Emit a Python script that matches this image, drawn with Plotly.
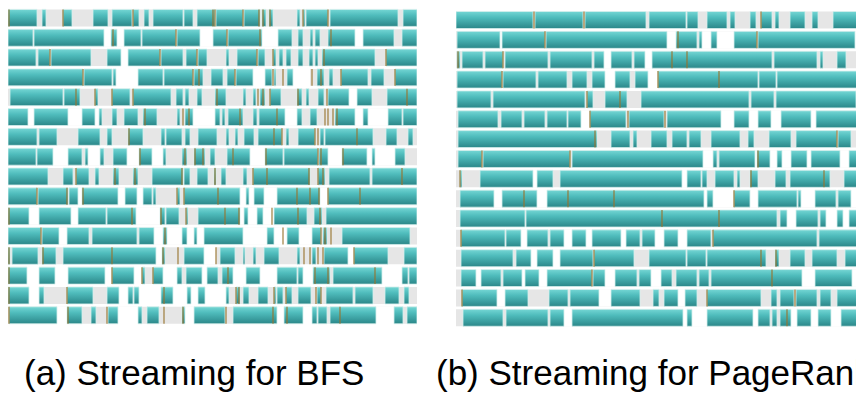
import plotly.graph_objects as go

# ---------------- data (time units along each stream, rows = channels) ----------------
bfs_span = (8, 417)
pr_span = (456, 864)

bfs_busy = [
    [(8,37),(42,46),(63,72),(93,108),(112,132),(133,139),(144,149),(153,183),(184,193),(197,215),(216,243),(244,260),(262,266),(269,273),(297,300),(303,305),(306,328),(330,398),(403,417)],
    [(8,33),(34,104),(111,117),(124,141),(142,176),(177,200),(213,227),(228,262),(278,292),(298,303),(310,313),(315,320),(328,355),(363,394),(402,417)],
    [(8,36),(38,50),(51,91),(107,121),(128,160),(161,183),(186,197),(198,207),(226,229),(237,257),(258,265),(273,276),(279,283),(286,291),(298,303),(309,313),(315,318),(322,375),(386,417)],
    [(8,83),(84,112),(113,116),(138,163),(164,193),(194,203),(211,223),(227,235),(236,253),(265,272),(274,276),(287,293),(317,324),(329,333),(341,368),(371,384),(395,417)],
    [(10,63),(64,80),(95,98),(112,130),(133,171),(176,183),(185,189),(197,202),(215,226),(243,246),(253,256),(260,265),(270,281),(297,302),(306,309),(318,324),(328,349),(357,372),(387,417)],
    [(8,28),(34,68),(82,95),(99,102),(112,117),(124,138),(143,157),(177,180),(185,193),(215,220),(222,225),(228,243),(253,257),(259,285),(297,302),(310,317),(335,355),(363,368),(388,402),(403,417)],
    [(8,37),(39,57),(78,100),(107,112),(128,143),(161,165),(166,182),(185,190),(198,217),(226,229),(235,238),(244,254),(258,282),(286,289),(298,315),(320,324),(325,373),(386,397),(408,413)],
    [(8,36),(37,53),(68,82),(85,88),(100,104),(113,127),(139,152),(163,166),(182,187),(194,205),(210,215),(227,250),(265,283),(284,318),(319,328),(342,367),(372,375),(395,405)],
    [(8,48),(63,73),(76,89),(95,99),(113,119),(133,138),(152,183),(184,190),(197,208),(214,216),(221,226),(243,247),(253,310),(318,325),(329,370),(372,417)],
    [(8,37),(38,68),(69,78),(82,118),(125,137),(143,152),(153,156),(177,180),(184,240),(246,249),(254,264),(277,320),(328,417)],
    [(8,29),(39,71),(78,106),(107,136),(160,165),(166,179),(186,188),(198,240),(244,248),(257,263),(274,307),(314,322),(326,417)],
    [(8,41),(42,59),(67,89),(92,137),(139,154),(163,167),(182,187),(194,197),(204,243),(267,274),(287,299),(312,321),(323,327),(342,410)],
    [(8,10),(12,38),(42,56),(63,156),(162,165),(184,204),(220,235),(243,245),(253,256),(264,279),(297,300),(312,316),(324,348),(354,388),(404,417)],
    [(8,27),(39,55),(68,105),(112,134),(142,145),(153,163),(177,182),(186,202),(207,218),(222,233),(246,260),(277,297),(298,303),(313,330),(333,382),(402,408),(409,417)],
    [(8,29),(39,44),(67,93),(107,119),(128,133),(134,139),(161,173),(187,191),(198,205),(226,229),(236,240),(243,249),(258,268),(274,276),(277,283),(286,292),(298,311),(317,321),(326,353),(355,373),(385,399),(404,409)],
    [(9,57),(67,82),(91,96),(108,118),(138,142),(147,159),(182,185),(194,225),(233,277),(284,303),(312,317),(318,327),(330,376),(394,403),(407,417)],
]

bfs_free = [
    [],
    [(104,111),(117,124),(200,213),(262,278),(355,363)],
    [(121,128)],
    [(116,138),(253,265),(293,310)],
    [(349,357)],
    [(28,34),(68,82),(95,99),(193,215),(285,297),(355,363),(368,388)],
    [],
    [(53,68),(88,100),(127,139),(152,163),(250,265),(328,342),(367,372),(375,395)],
    [],
    [(78,82),(118,125),(137,143),(240,246),(249,254),(264,277),(320,328)],
    [(29,39),(71,78),(136,160),(240,244),(248,257),(263,274)],
    [(59,67),(154,163),(167,182),(187,194),(197,204),(243,267),(274,287),(299,312)],
    [(156,162),(204,216),(348,354)],
    [(27,39),(55,68),(105,112),(134,142),(163,177),(202,207),(233,246),(260,277),(303,313),(382,402)],
    [(29,39),(119,128),(139,161),(173,187),(191,198),(205,226)],
    [(57,67),(118,138),(185,194),(277,284),(303,312),(376,394)],
]

bfs_marks = [
    [9,63,133,213,215,243,259,263,270,303,328],
    [113,176,227,260,331],
    [50,160,197,257,273,324,386],
    [83,193,199,235,273,283,312,321,341,395],
    [76,95,112,133,217,258,263,270,298,327,407],
    [145,183,189,240,277,325,328,333,337],
    [129,274,282,315,318,357],
    [140,185,195,203,233,266,318,321,343],
    [76,115,135,182,215,253,267,309,318,323,402],
    [37,67,83,177,184,218,297,310,319,328,360],
    [9,132,161,186,225,239,272,298,320],
    [41,165,283,321,325,331],
    [9,43,112,163,178,216,304,310,318,323,354],
    [9,112,142,153,228,315,328,375],
    [9,67,164,236,239,274,286,316,321],
    [9,68,107,164,183,226,273,287,340],
]

pr_busy = [
    [(456,533),(535,583),(585,646),(649,686),(687,698),(707,727),(730,735),(750,756),(761,772),(775,779),(790,805),(812,818),(833,857)],
    [(457,500),(502,545),(546,667),(676,697),(699,702),(711,717),(734,757),(758,855),(861,864)],
    [(457,460),(462,483),(485,503),(505,548),(550,592),(594,604),(611,632),(634,645),(652,772),(774,817),(820,823),(837,846),(858,864)],
    [(457,502),(503,536),(538,567),(572,587),(592,605),(615,630),(635,648),(658,758),(759,776),(777,864)],
    [(457,491),(493,585),(587,593),(605,627),(641,749),(751,774),(776,856)],
    [(458,498),(501,522),(524,545),(547,567),(568,581),(590,626),(629,664),(667,721),(734,749),(758,771),(781,811),(816,864)],
    [(458,597),(611,630),(633,637),(651,667),(672,687),(689,701),(711,740),(748,754),(769,791),(796,837),(838,851),(861,864)],
    [(458,482),(483,570),(572,703),(713,717),(719,755),(757,770),(777,782),(791,807),(811,840),(849,864)],
    [(460,462),(480,533),(537,553),(560,682),(687,701),(702,707),(715,734),(737,740),(750,758),(775,786),(790,830),(844,864)],
    [(460,494),(502,537),(547,704),(707,713),(734,750),(758,797),(798,801),(815,836),(838,851)],
    [(460,525),(526,777),(780,787),(796,818),(820,826),(837,843),(849,858),(860,864)],
    [(461,505),(506,521),(527,548),(550,564),(572,586),(592,621),(626,640),(642,655),(664,678),(687,711),(713,817),(819,864)],
    [(461,513),(516,531),(537,553),(560,593),(594,634),(649,686),(687,706),(707,766),(775,779),(790,805),(812,837),(845,864)],
    [(461,476),(481,501),(503,522),(525,539),(547,592),(593,605),(615,637),(639,651),(661,672),(676,697),(699,709),(711,802),(815,852),(861,864)],
    [(462,497),(505,528),(549,568),(570,599),(611,640),(653,659),(664,678),(685,697),(707,761),(771,777),(780,794),(796,817),(820,831),(837,864)],
    [(463,503),(506,548),(550,564),(572,683),(687,692),(707,753),(758,770),(772,777),(780,791),(797,811),(818,831),(841,864)],
]

pr_free = [
    [],
    [(500,502),(667,676),(702,711),(717,734),(855,861)],
    [(604,611),(645,652)],
    [(605,615),(648,658)],
    [],
    [(581,590),(721,734),(749,758),(771,781),(811,816)],
    [],
    [(703,713),(755,757),(770,777),(782,791),(807,811),(840,849)],
    [(533,537),(682,687)],
    [(494,502),(537,547),(704,707),(713,734),(750,758),(801,815),(851,864)],
    [(787,796),(826,837),(843,849)],
    [(521,527),(564,572),(586,592),(621,626),(655,664),(678,687)],
    [(531,537),(553,560)],
    [(476,481),(522,525),(539,547),(605,615),(651,661),(802,815),(852,861)],
    [(497,505),(599,611),(678,685)],
    [(564,572),(683,687),(692,707),(753,758),(791,797),(811,818),(831,841)],
]

pr_marks = [
    [534,584,761],
    [545,678,757],
    [458,503,672,687],
    [502,658,719],
    [587,620],
    [590,628,665],
    [595,837],
    [482,570,758],
    [460,751,824],
    [524,568,614,734],
    [662,719],
    [461,713],
    [594,761,776],
    [592,772],
    [462,707,795],
    [787],
]

captions = ["(a) Streaming for BFS", "(b) Streaming for PageRank"]

# ---------------- styling ----------------
PAGE_W, PAGE_H = 864, 395
OFF = 8                       # default page margin around the plot div
W, H = PAGE_W - OFF, PAGE_H - OFF
PITCH = 19.85
BAR_H = 17.0
HALF = BAR_H / PITCH / 2
IDLE = "#e6e6e6"
TEAL_SCALE = [[0.0, "#74d6d4"], [0.35, "#4fbcbc"], [1.0, "#2b8789"]]
EDGE = "#d6f0ee"
MARK = "rgba(150,115,45,0.85)"

fig = go.Figure()


def add_panel(busy, free, marks, span, xa, ya):
    n = len(busy)
    rows = list(range(n))
    fig.add_trace(go.Bar(orientation="h", y=rows, base=[span[0]] * n,
                         x=[span[1] - span[0]] * n, width=2 * HALF,
                         marker=dict(color=IDLE, line=dict(width=0)),
                         xaxis=xa, yaxis=ya, hoverinfo="skip", showlegend=False))
    fy, fb, fx = [], [], []
    for i, gaps in enumerate(free):
        for s, e in gaps:
            fy.append(i); fb.append(s); fx.append(e - s)
    if fy:
        fig.add_trace(go.Bar(orientation="h", y=fy, base=fb, x=fx, width=2 * HALF + 0.02,
                             marker=dict(color="white", line=dict(width=0)),
                             xaxis=xa, yaxis=ya, hoverinfo="skip", showlegend=False))
    for i, segs in enumerate(busy):
        xs, ys = [], []
        for s, e in segs:
            xs += [s, e, e, s, s, None]
            ys += [i - HALF, i - HALF, i + HALF, i + HALF, i - HALF, None]
        fig.add_trace(go.Scatter(x=xs, y=ys, mode="lines", fill="toself",
                                 line=dict(color=EDGE, width=0.8),
                                 fillgradient=dict(type="vertical", colorscale=TEAL_SCALE,
                                                   start=i - HALF, stop=i + HALF),
                                 xaxis=xa, yaxis=ya, hoverinfo="skip", showlegend=False))
    mx, my = [], []
    for i, ms in enumerate(marks):
        for m in ms:
            mx += [m, m, None]
            my += [i - HALF, i + HALF, None]
    fig.add_trace(go.Scatter(x=mx, y=my, mode="lines", line=dict(color=MARK, width=1.3),
                             xaxis=xa, yaxis=ya, hoverinfo="skip", showlegend=False))


add_panel(bfs_busy, bfs_free, bfs_marks, bfs_span, "x", "y")
add_panel(pr_busy, pr_free, pr_marks, pr_span, "x2", "y2")


def ydom(top_px, n):
    t = top_px - OFF - (PITCH - BAR_H) / 2
    b = t + n * PITCH
    return [max(0.0, 1 - b / H), min(1.0, 1 - t / H)]


def xdom(span):
    return [max(0.0, (span[0] - OFF) / W), min(1.0, (span[1] - OFF) / W)]


ax = dict(visible=False, showgrid=False, zeroline=False, fixedrange=True)
cap_font = dict(family="Liberation Sans, Arial, sans-serif", size=35, color="black")
CAP_Y = 1 - (372 - OFF) / H
fig.update_layout(
    width=W, height=H, margin=dict(l=0, r=0, t=0, b=0),
    paper_bgcolor="white", plot_bgcolor="rgba(0,0,0,0)",
    barmode="overlay", showlegend=False,
    xaxis=dict(ax, domain=xdom(bfs_span), range=list(bfs_span)),
    yaxis=dict(ax, domain=ydom(9, len(bfs_busy)), range=[len(bfs_busy) - 0.5, -0.5]),
    xaxis2=dict(ax, domain=xdom(pr_span), range=list(pr_span)),
    yaxis2=dict(ax, domain=ydom(11.5, len(pr_busy)), range=[len(pr_busy) - 0.5, -0.5]),
    annotations=[
        dict(text=captions[0], x=(23 - OFF) / W, y=CAP_Y, xref="paper", yref="paper",
             xanchor="left", yanchor="middle", showarrow=False, borderpad=0, font=cap_font),
        dict(text=captions[1], x=(435 - OFF) / W, y=CAP_Y, xref="paper", yref="paper",
             xanchor="left", yanchor="middle", showarrow=False, borderpad=0, font=cap_font),
    ],
)

fig.write_html("out.html")
